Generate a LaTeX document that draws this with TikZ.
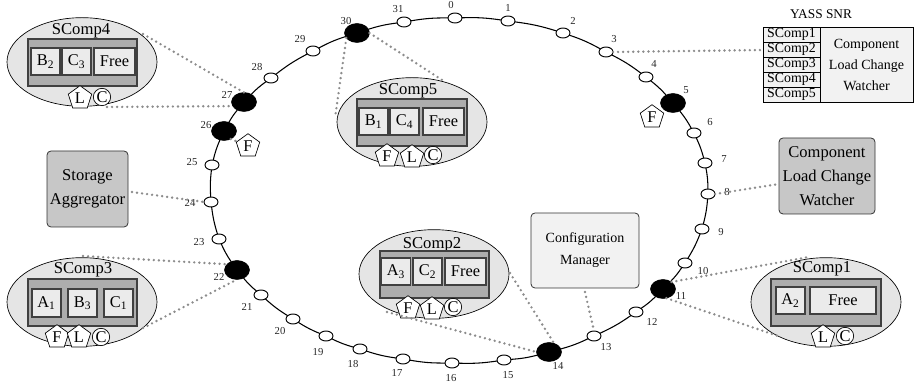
\documentclass[tikz,border=0pt]{standalone}
\usepackage{fontspec}
\setmainfont{Liberation Serif}
\usetikzlibrary{shapes.geometric}
\newcommand{\fs}[2]{\fontsize{#1}{#2}\selectfont}
\newcommand{\low}[1]{\raisebox{-1.2pt}{#1}}
\tikzset{
  wh/.style 2 args={minimum width=#1*0.75pt, minimum height=#2*0.75pt},
  ringw/.style={ellipse,draw=black,fill=white,line width=0.7pt,inner sep=0pt,outer sep=0pt,minimum width=10.5pt,minimum height=7.5pt},
  ringb/.style={ellipse,draw=black,fill=black,inner sep=0pt,outer sep=0pt,minimum width=18.75pt,minimum height=14.25pt},
  ringlab/.style={font=\fs{8}{9},text=black!85,inner sep=0pt},
  ringedge/.style={draw=black,line width=0.8pt},
  comp/.style={ellipse,draw=black,fill=black!10,line width=0.5pt,inner sep=0pt,outer sep=0pt,minimum width=112.5pt,minimum height=66.5pt},
  tray/.style={rectangle,draw=black!75,fill=black!32,line width=0.8pt,inner sep=0pt,outer sep=0pt},
  cell/.style={rectangle,draw=black!75,fill=black!8,line width=0.8pt,inner sep=0pt,outer sep=0pt,font=\fs{12.3}{14}},
  title/.style={font=\fs{12.5}{14},inner sep=0pt},
  pent/.style={regular polygon,regular polygon sides=5,draw=black,fill=white,line width=0.5pt,inner sep=0pt,outer sep=0pt,minimum size=18.5pt,font=\fs{12.3}{14}},
  circ/.style={circle,draw=black,fill=white,line width=0.5pt,inner sep=0pt,outer sep=0pt,minimum size=13pt,font=\fs{12.3}{14}},
  darkbox/.style={rectangle,rounded corners=3pt,draw=black!80,fill=black!22,line width=0.6pt,inner sep=0pt,align=center,font=\fs{12.4}{18}},
  lightbox/.style={rectangle,rounded corners=3pt,draw=black!80,fill=black!5,line width=0.6pt,inner sep=0pt,align=center,font=\fs{10.5}{16.5}},
  snrrow/.style={rectangle,draw=black,fill=black!5,line width=0.7pt,inner sep=0pt,outer sep=0pt,font=\fs{10.4}{12},wh={57}{15}},
  snrmain/.style={rectangle,draw=black,fill=black!5,line width=0.7pt,inner sep=0pt,outer sep=0pt,align=center,font=\fs{10.5}{15.75},wh={93}{75}},
  dots/.style={draw=black!45,line width=2pt,line cap=round,dash pattern=on 0pt off 3.8pt},
}
\begin{document}
\begin{tikzpicture}[x=0.75pt,y=-0.75pt]
\useasboundingbox (0,0) rectangle (914,384);
% free ends of the dotted leaders
\coordinate (d4a) at (143,34);
\coordinate (d4b) at (107,107);
\coordinate (d5a) at (335,118);
\coordinate (d5b) at (442,80);
\coordinate (d3a) at (83,256);
\coordinate (d3b) at (143,328);
\coordinate (d2a) at (510,273);
\coordinate (d2b) at (387,312);
\coordinate (d1a) at (809,257);
\coordinate (d1b) at (781,337);
\coordinate (dsa) at (132,192);
\coordinate (dcm) at (585,292);
\coordinate (dcw) at (779,184);
\coordinate (dsn) at (762,50);
% ring nodes
\foreach \i/\x/\y in {0/455/18,1/508/21,2/563/33,3/606/52,4/646/77,6/694/133,7/705/163,8/708/194,9/702/229,10/685/263,12/636/312,13/594/336,15/504/360,16/452/363,17/403/359,18/360/349,19/326/336,20/293/319,21/261/295,23/219/239,24/211/202,25/212/165,28/271/78,29/313/51,31/404/22}
  \node[ringw] (n\i) at (\x,\y) {};
\foreach \i/\x/\y in {5/673/103,11/663/289,14/549/352,22/237/270,26/224/131,27/244/102,30/357/33}
  \node[ringb] (n\i) at (\x,\y) {};
% ring connectors
\foreach \a/\b in {0/1,1/2,2/3,3/4,4/5,5/6,6/7,7/8,8/9,9/10,10/11,11/12,12/13,13/14,14/15,15/16,16/17,17/18,18/19,19/20,20/21,21/22,22/23,23/24,24/25,25/26,26/27,27/28,28/29,29/30,30/31,31/0}
  \draw[ringedge] (n\a) to[bend left=5] (n\b);
% ring labels
\foreach \i/\x/\y in {0/451/5,1/508/8,2/573/21,3/614/39,4/654/64,5/686/90,6/710/122,7/724/159,8/727/192,9/721/232,10/703/271,11/681/296,12/652/322,13/606/347,14/558/366,15/508/375,16/451/378,17/397/373,18/353/364,19/318/352,20/280/331,21/247/307,22/219/277,23/199/242,24/190/203,25/192/162,26/206/125,27/227/95,28/257/67,29/300/39,30/346/21,31/398/9}
  \node[ringlab] (l\i) at (\x,\y) {\i};
% SComp4
\node[comp] (c4) at (82,62) {};
\node[title] (t4) at (81,31) {SComp4};
\node[tray,wh={109}{47}] (b4) at (82.5,62.5) {};
\node[cell,wh={29}{27}] (c4a) at (45.5,61.5) {B\textsubscript{2}};
\node[cell,wh={29}{27}] (c4b) at (76.5,61.5) {C\textsubscript{3}};
\node[cell,wh={41}{27}] (c4c) at (114.5,61.5) {Free};
\node[pent] (c4L) at (80,98) {\low{L}};
\node[circ] (c4C) at (102,97) {C};
% SComp3
\node[comp] (c3) at (82,302) {};
\node[title] (t3) at (83,270) {SComp3};
\node[tray,wh={109}{47}] (b3) at (82.5,302.5) {};
\node[cell,wh={29}{28}] (c3a) at (46.5,303) {A\textsubscript{1}};
\node[cell,wh={29}{28}] (c3b) at (82.5,303) {B\textsubscript{3}};
\node[cell,wh={29}{28}] (c3c) at (118.5,303) {C\textsubscript{1}};
\node[pent] (c3F) at (57,337) {\low{F}};
\node[pent] (c3L) at (79,337) {\low{L}};
\node[circ] (c3C) at (101,337) {C};
% SComp5
\node[comp] (c5) at (412,122) {};
\node[title] (t5) at (408,91) {SComp5};
\node[tray,wh={110}{47}] (b5) at (412,122.5) {};
\node[cell,wh={29}{27}] (c5a) at (373.5,121.5) {B\textsubscript{1}};
\node[cell,wh={29}{27}] (c5b) at (404.5,121.5) {C\textsubscript{4}};
\node[cell,wh={41}{27}] (c5c) at (443.5,121.5) {Free};
\node[pent] (c5F) at (387,156) {\low{F}};
\node[pent] (c5L) at (412,157) {\low{L}};
\node[circ] (c5C) at (433,155) {C};
% SComp2
\node[comp] (c2) at (434,274) {};
\node[title] (t2) at (432,245) {SComp2};
\node[tray,wh={109}{47}] (b2) at (434.5,274.5) {};
\node[cell,wh={29}{27}] (c2a) at (396,271.5) {A\textsubscript{3}};
\node[cell,wh={29}{27}] (c2b) at (427.5,271.5) {C\textsubscript{2}};
\node[cell,wh={41}{27}] (c2c) at (465.5,271.5) {Free};
\node[pent] (c2F) at (408,308) {\low{F}};
\node[pent] (c2L) at (432,309) {\low{L}};
\node[circ] (c2C) at (453,307) {C};
% SComp1
\node[comp] (c1) at (826,302) {};
\node[title] (t1) at (822,269) {SComp1};
\node[tray,wh={110}{47}] (b1) at (826,302.5) {};
\node[cell,wh={29}{27}] (c1a) at (790.5,300.5) {A\textsubscript{2}};
\node[cell,wh={66}{27}] (c1b) at (843,300.5) {Free};
\node[pent] (c1L) at (823,337) {\low{L}};
\node[circ] (c1C) at (845,336) {C};
% lone failure markers
\node[pent] (f5) at (652,117) {\low{F}};
\node[pent] (f26) at (248,146) {\low{F}};
% service boxes
\node[darkbox,wh={81}{76}] (sa) at (87.5,189) {Storage\\Aggregator};
\node[darkbox,wh={96}{76}] (cw) at (827,176) {Component\\Load Change\\Watcher};
\node[lightbox,wh={108}{75}] (cm) at (585,250.5) {Configuration\\Manager};
% SNR table
\node[font=\fs{10}{12},inner sep=0pt] (snr) at (821,14) {YASS SNR};
\node[snrrow] (r1) at (791.5,34.5) {SComp1};
\node[snrrow] (r2) at (791.5,49.5) {SComp2};
\node[snrrow] (r3) at (791.5,64.5) {SComp3};
\node[snrrow] (r4) at (791.5,79.5) {SComp4};
\node[snrrow] (r5) at (791.5,94.5) {SComp5};
\node[snrmain] (rm) at (866.5,64.5) {Component\\Load Change\\Watcher};
% dotted leaders
\draw[dots] (d4a) -- (n27.north);
\draw[dots] (d4b) -- (n27.200);
\draw[dots] (n26.-50) -- (f26);
\draw[dots] (n30.205) -- (d5a);
\draw[dots] (n30.east) -- (d5b);
\draw[dots] (dsa) -- (n24.west);
\draw[dots] (d3a) -- (n22.150);
\draw[dots] (d3b) -- (n22.south);
\draw[dots] (d2a) -- (n14.60);
\draw[dots] (d2b) -- (n14.west);
\draw[dots] (dcm) -- (n13.north);
\draw[dots] (n3.east) -- (dsn);
\draw[dots] (n8.east) -- (dcw);
\draw[dots] (n11.40) -- (d1a);
\draw[dots] (n11.-70) -- (d1b);
\end{tikzpicture}
\end{document}
